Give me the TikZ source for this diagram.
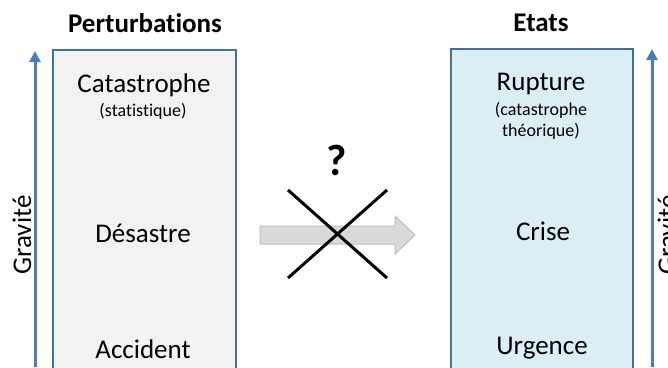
\documentclass[tikz,border=0pt]{standalone}
\usepackage{fontspec}
\setmainfont{Carlito}[Ligatures=NoCommon]
\usetikzlibrary{arrows.meta}
\definecolor{boxborder}{HTML}{41719C}
\definecolor{axisblue}{HTML}{4A7EBB}
\definecolor{leftfill}{HTML}{F2F2F2}
\definecolor{rightfill}{HTML}{DBEEF4}
\definecolor{arrfill}{HTML}{D9D9D9}
\definecolor{arrborder}{HTML}{BFBFBF}
\tikzset{
  title/.style={font=\fontsize{27}{31}\selectfont\bfseries},
  lbl/.style={font=\fontsize{27}{31}\selectfont},
  sub/.style={font=\fontsize{18}{21}\selectfont, align=center},
  colbox/.style={draw=boxborder, line width=1.5pt},
  axis/.style={axisblue, line width=3pt, -{Triangle[width=11pt,length=11pt]}},
  grav/.style={font=\fontsize{27}{31}\selectfont, rotate=90},
  cross/.style={line width=3pt, black},
}
\begin{document}
\begin{tikzpicture}[x=1pt,y=-1pt]
\useasboundingbox (0,0) rectangle (668,367);
\fill[white] (0,0) rectangle (668,367);
% boxes
\draw[colbox, fill=leftfill] (53,380) -- (53,50) -- (236,50) -- (236,380);
\draw[colbox, fill=rightfill] (451,380) -- (451,49) -- (633,49) -- (633,380);
% titles
\node[title] (pt) at (145,23) {Perturbations};
\node[title] (et) at (541,23) {Etats};
% left labels
\node[lbl] (cat) at (144,85) {Catastrophe};
\node[sub] (stat) at (143,111) {(statistique)};
\node[lbl] (des) at (143,233) {Désastre};
\node[lbl] (acc) at (143,349) {Accident};
% right labels
\node[lbl] (rup) at (541,84) {Rupture};
\node[sub] (cth) at (541,121) {(catastrophe\\théorique)};
\node[lbl] (cri) at (543,231) {Crise};
\node[lbl] (urg) at (542,348) {Urgence};
% axes
\coordinate (la0) at (35,367);
\coordinate (la1) at (35,51);
\draw[axis] (la0) -- (la1);
\coordinate (ra0) at (652,367);
\coordinate (ra1) at (652,49);
\draw[axis] (ra0) -- (ra1);
\node[grav] (gl) at (22,235) {Gravité};
\node[grav] (gr) at (667,235) {Gravité};
% middle arrow
\draw[draw=arrborder, fill=arrfill, line width=1pt]
  (260,226) -- (395,226) -- (395,216) -- (415,235) -- (395,254) -- (395,244) -- (260,244) -- cycle;
% cross
\coordinate (c1) at (288,190);
\coordinate (c2) at (387,278);
\coordinate (c3) at (387,190);
\coordinate (c4) at (288,278);
\draw[cross] (c1) -- (c2);
\draw[cross] (c3) -- (c4);
\node[font=\fontsize{44}{48}\selectfont\bfseries] (q) at (337,160) {?};
\end{tikzpicture}
\end{document}
